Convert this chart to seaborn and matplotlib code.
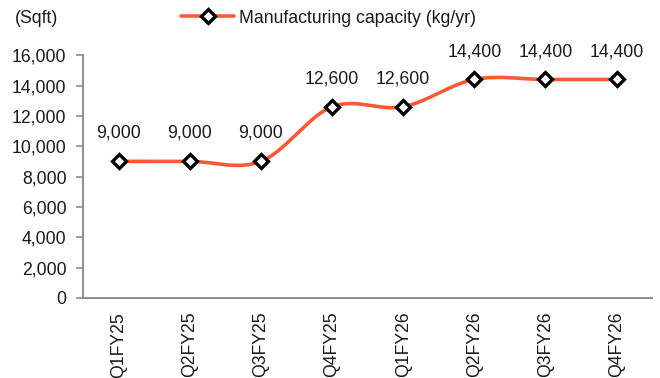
import numpy as np
import pandas as pd
import matplotlib
matplotlib.use("Agg")
import matplotlib.pyplot as plt
from matplotlib.lines import Line2D
import seaborn as sns

quarters = ["Q1FY25", "Q2FY25", "Q3FY25", "Q4FY25", "Q1FY26", "Q2FY26", "Q3FY26", "Q4FY26"]
capacity = [9000, 9000, 9000, 12600, 12600, 14400, 14400, 14400]
series_name = "Manufacturing capacity (kg/yr)"
unit_label = "(Sqft)"
y_ticks = [0, 2000, 4000, 6000, 8000, 10000, 12000, 14000, 16000]

LINE_COLOR = "#FA5A3A"
AXIS_COLOR = "#8C8C8C"
TEXT_COLOR = "#1a1a1a"
FS = 12.7

sns.set_theme(style="white")
plt.rcParams["font.family"] = ["Liberation Sans", "DejaVu Sans"]


def smooth_curve(xs, ys, steps=40):
    """Catmull-Rom style Bezier smoothing through every point."""
    pts = np.column_stack([xs, ys]).astype(float)
    pts_ext = np.vstack([pts[0], pts, pts[-1]])
    out = []
    for i in range(len(pts) - 1):
        p0, p1, p2, p3 = pts_ext[i], pts_ext[i + 1], pts_ext[i + 2], pts_ext[i + 3]
        c1 = p1 + (p2 - p0) / 6.0
        c2 = p2 - (p3 - p1) / 6.0
        t = np.linspace(0, 1, steps, endpoint=(i == len(pts) - 2))[:, None]
        seg = ((1 - t) ** 3) * p1 + 3 * ((1 - t) ** 2) * t * c1 + 3 * (1 - t) * t ** 2 * c2 + t ** 3 * p2
        out.append(seg)
    return np.vstack(out)


x_pos = np.arange(len(quarters))
curve = smooth_curve(x_pos, capacity)
curve_df = pd.DataFrame({"x": curve[:, 0], "y": curve[:, 1]})
points_df = pd.DataFrame({"x": x_pos, "y": capacity})

fig = plt.figure(figsize=(6.6, 3.78), dpi=100)
ax = fig.add_axes([0.126, 0.212, 0.862, 0.642])

sns.lineplot(data=curve_df, x="x", y="y", sort=False, color=LINE_COLOR,
             linewidth=2.6, ax=ax, zorder=2)
ax.plot(points_df["x"], points_df["y"], linestyle="none", marker="D",
        markersize=7.5, markerfacecolor="white", markeredgecolor="black",
        markeredgewidth=2.4, zorder=3)

for xv, yv in zip(x_pos, capacity):
    ax.annotate(f"{yv:,}", (xv, yv), xytext=(0, 14), textcoords="offset points",
                ha="center", va="bottom", fontsize=FS, color=TEXT_COLOR)

ax.set_xlim(-0.5, len(quarters) - 0.5)
ax.set_ylim(0, 16000)
ax.set_yticks(y_ticks)
ax.set_yticklabels([f"{v:,}" for v in y_ticks], fontsize=FS, color=TEXT_COLOR)
ax.set_xticks(x_pos)
ax.set_xticklabels(quarters, rotation=90, fontsize=FS, color=TEXT_COLOR)
ax.set_xticks(np.arange(len(quarters) + 1) - 0.5, minor=True)
ax.tick_params(axis="x", which="major", length=0, pad=10)
ax.tick_params(axis="x", which="minor", length=5, width=1.2, color=AXIS_COLOR, direction="out")
ax.tick_params(axis="y", which="major", length=5, width=1.2, color=AXIS_COLOR,
               direction="out", pad=7, left=True)
ax.set_xlabel("")
ax.set_ylabel("")

for side in ["top", "right"]:
    ax.spines[side].set_visible(False)
for side in ["left", "bottom"]:
    ax.spines[side].set_color(AXIS_COLOR)
    ax.spines[side].set_linewidth(1.4)

fig.text(0.022, 0.952, unit_label, fontsize=FS, color=TEXT_COLOR, va="center", ha="left")

handle = Line2D([], [], color=LINE_COLOR, linewidth=2.6, marker="D", markersize=7.5,
                markerfacecolor="white", markeredgecolor="black", markeredgewidth=2.4)
fig.legend([handle], [series_name], loc="center", bbox_to_anchor=(0.498, 0.952),
           frameon=False, fontsize=FS, handlelength=3.0, handletextpad=0.28,
           borderpad=0, labelcolor=TEXT_COLOR)

fig.savefig("out.png", dpi=100)
